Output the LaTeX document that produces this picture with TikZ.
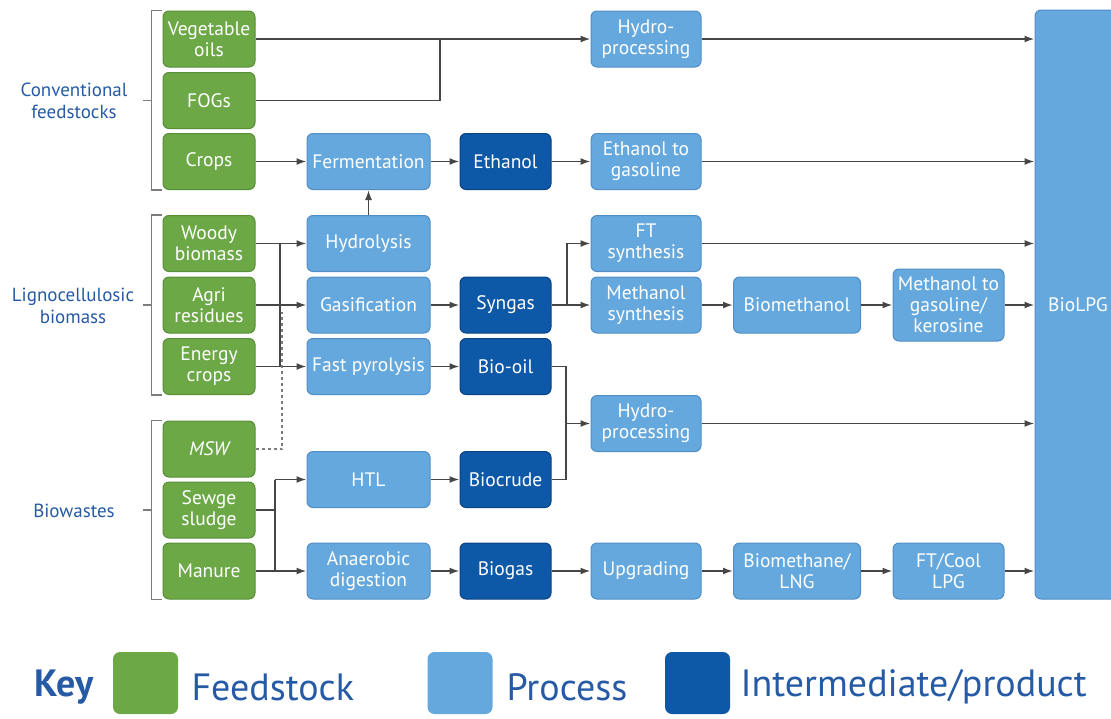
\documentclass[tikz,border=0pt]{standalone}
\usepackage{fontspec}
\setmainfont{PT Sans}
\usetikzlibrary{arrows.meta}

\definecolor{feedgreen}{RGB}{108,168,70}
\definecolor{feedline}{RGB}{88,142,55}
\definecolor{proclight}{RGB}{101,168,222}
\definecolor{procline}{RGB}{82,142,196}
\definecolor{interdark}{RGB}{14,88,168}
\definecolor{interline}{RGB}{10,66,130}
\definecolor{labelblue}{RGB}{38,90,165}
\definecolor{connector}{RGB}{70,70,70}
\definecolor{bracket}{RGB}{125,125,125}

\begin{document}
\begin{tikzpicture}[x=1pt,y=-1pt,
    box/.style={rounded corners=6pt,draw,line width=1pt,text=white,align=center,
        inner sep=0pt,minimum height=56pt,font=\fontsize{19.5}{21}\selectfont},
    feed/.style={box,fill=feedgreen,draw=feedline,minimum width=92pt},
    proc/.style={box,fill=proclight,draw=procline},
    inter/.style={box,fill=interdark,draw=interline,minimum width=91pt},
    grp/.style={text=labelblue,align=center,font=\fontsize{19}{22}\selectfont},
    keytext/.style={text=labelblue,anchor=west,font=\fontsize{38}{42}\selectfont},
    keybox/.style={rounded corners=7pt,minimum width=65pt,minimum height=62pt,inner sep=0pt},
    line/.style={draw=connector,line width=1.7pt},
    arr/.style={line,-{Latex[length=10pt,width=7pt]}},
    dot/.style={draw=bracket,line width=1.6pt,dash pattern=on 3pt off 3pt},
    brack/.style={draw=bracket,line width=1.6pt}]
    \useasboundingbox (0,0) rectangle (1111,718);

    % feedstocks
    \node[feed] (veg)    at (209,39)    {Vegetable\\oils};
    \node[feed] (fogs)   at (209,100.5) {FOGs};
    \node[feed] (crops)  at (209,161.5) {Crops};
    \node[feed] (woody)  at (209,243.5) {Woody\\biomass};
    \node[feed] (agri)   at (209,305)   {Agri\\residues};
    \node[feed] (energy) at (209,366.5) {Energy\\crops};
    \node[feed] (msw)    at (209,449)   {\itshape MSW};
    \node[feed] (sludge) at (209,510)   {Sewge\\sludge};
    \node[feed] (manure) at (209,571)   {Manure};

    % groups
    \node[grp] (conv)  at (74,101) {Conventional\\feedstocks};
    \node[grp] (ligno) at (73,306) {Lignocellulosic\\biomass};
    \node[grp] (waste) at (74,511) {Biowastes};
    \draw[brack] ([xshift=-1pt]veg.north west) -- ++(-10,0) |- ([xshift=-1pt]crops.south west);
    \draw[brack] ([xshift=-11pt]fogs.west) -- ++(-9,0);
    \draw[brack] ([xshift=-1pt]woody.north west) -- ++(-10,0) |- ([xshift=-1pt]energy.south west);
    \draw[brack] ([xshift=-11pt]agri.west) -- ++(-9,0);
    \draw[brack] ([xshift=-1pt]msw.north west) -- ++(-10,0) |- ([xshift=-1pt]manure.south west);
    \draw[brack] ([xshift=-11pt]sludge.west) -- ++(-9,0);

    % first processes
    \node[proc,minimum width=123pt] (ferm)  at (368.5,161.5) {Fermentation};
    \node[proc,minimum width=123pt] (hydro) at (368.5,243.5) {Hydrolysis};
    \node[proc,minimum width=123pt] (gasif) at (368.5,305)   {Gasification};
    \node[proc,minimum width=123pt] (pyro)  at (368.5,366.5) {Fast pyrolysis};
    \node[proc,minimum width=123pt] (htl)   at (368.5,479.5) {HTL};
    \node[proc,minimum width=123pt] (ad)    at (368.5,571)   {Anaerobic\\digestion};

    % intermediates
    \node[inter] (ethanol)  at (505.5,161.5) {Ethanol};
    \node[inter] (syngas)   at (505.5,305)   {Syngas};
    \node[inter] (biooil)   at (505.5,366.5) {Bio-oil};
    \node[inter] (biocrude) at (505.5,479.5) {Biocrude};
    \node[inter] (biogas)   at (505.5,571)   {Biogas};

    % further processes
    \node[proc,minimum width=110pt] (hp1)  at (646,39)    {Hydro-\\processing};
    \node[proc,minimum width=110pt] (etg)  at (646,161.5) {Ethanol to\\gasoline};
    \node[proc,minimum width=110pt] (ft)   at (646,243.5) {FT\\synthesis};
    \node[proc,minimum width=110pt] (meoh) at (646,305)   {Methanol\\synthesis};
    \node[proc,minimum width=110pt] (hp2)  at (646,423.5) {Hydro-\\processing};
    \node[proc,minimum width=110pt] (upg)  at (646,571)   {Upgrading};
    \node[proc,minimum width=127pt] (bmeoh) at (797,305) {Biomethanol};
    \node[proc,minimum width=127pt] (bmlng) at (797,571) {Biomethane/\\LNG};
    \node[proc,minimum width=111pt,minimum height=72pt] (mtg) at (948.5,305) {Methanol to\\gasoline/\\kerosine};
    \node[proc,minimum width=111pt] (ftlpg) at (948.5,571) {FT/Cool\\LPG};
    \node[proc,minimum width=86pt,minimum height=589pt] (lpg) at (1078,304.5) {BioLPG};

    % junctions
    \coordinate (fj) at (440,0);
    \coordinate (lv) at (280,0);
    \coordinate (dv) at (282,312);
    \coordinate (wj) at (275,0);
    \coordinate (sj) at (567,0);
    \coordinate (bj) at (566,0);

    % connectors
    \draw[arr] (veg) -- (hp1);
    \draw[line] (fogs.east) -| (fj |- veg.east);
    \draw[arr] (hp1.east) -- (hp1.east -| lpg.west);
    \draw[arr] (crops) -- (ferm);
    \draw[arr] (ferm) -- (ethanol);
    \draw[arr] (ethanol) -- (etg);
    \draw[arr] (etg.east) -- (etg.east -| lpg.west);
    \draw[arr] (hydro) -- (ferm);

    \draw[arr] (woody) -- (hydro);
    \draw[arr] (agri) -- (gasif);
    \draw[arr] (energy) -- (pyro);
    \draw[line] (woody.east -| lv) -- (energy.east -| lv);
    \draw[dot] (msw.east) -| (dv);

    \draw[arr] (gasif) -- (syngas);
    \draw[arr] (pyro) -- (biooil);
    \draw[arr] (syngas) -- (meoh);
    \draw[arr] (syngas.east -| sj) |- (ft.west);
    \draw[arr] (ft.east) -- (ft.east -| lpg.west);
    \draw[arr] (meoh) -- (bmeoh);
    \draw[arr] (bmeoh) -- (mtg);
    \draw[arr] (mtg.east) -- (mtg.east -| lpg.west);

    \draw[line] (biooil.east) -| (biocrude.east -| bj) -- (biocrude.east);
    \draw[arr] (hp2.west -| bj) -- (hp2.west);
    \draw[arr] (hp2.east) -- (hp2.east -| lpg.west);

    \draw[line] (sludge.east) -- (sludge.east -| wj);
    \draw[line] (htl.west -| wj) -- (ad.west -| wj);
    \draw[arr] (htl.west -| wj) -- (htl.west);
    \draw[arr] (manure) -- (ad);
    \draw[arr] (htl) -- (biocrude);
    \draw[arr] (ad) -- (biogas);
    \draw[arr] (biogas) -- (upg);
    \draw[arr] (upg) -- (bmlng);
    \draw[arr] (bmlng) -- (ftlpg);
    \draw[arr] (ftlpg.east) -- (ftlpg.east -| lpg.west);

    % key
    \node[keytext,font=\fontsize{38}{42}\selectfont\bfseries] (key) at (31,687) {Key};
    \node[keybox,fill=feedgreen] (kfeed) at (145.5,683) {};
    \node[keytext] (lfeed) at (188,687) {Feedstock};
    \node[keybox,fill=proclight] (kproc) at (460,683) {};
    \node[keytext] (lproc) at (503,687) {Process};
    \node[keybox,fill=interdark] (kinter) at (697.5,683) {};
    \node[keytext] (linter) at (737,687) {Intermediate/product};
\end{tikzpicture}
\end{document}
